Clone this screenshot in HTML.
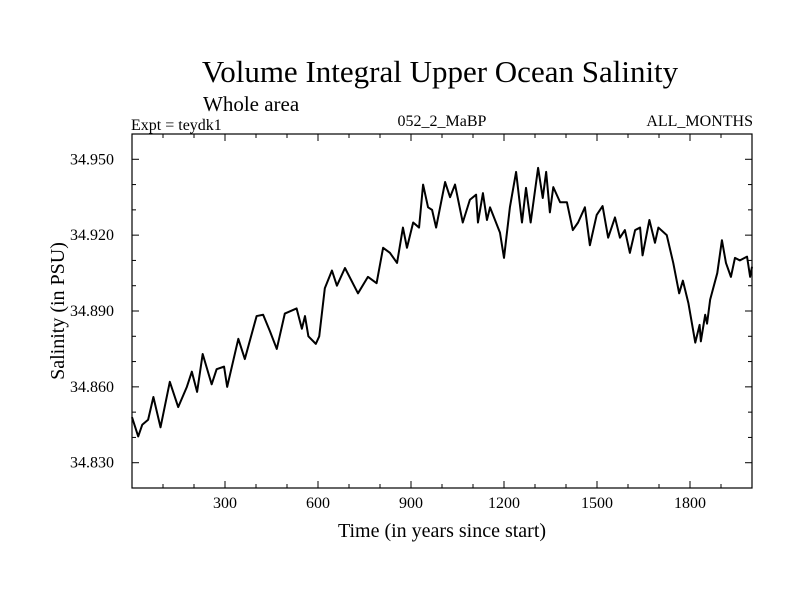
<!DOCTYPE html>
<html><head><meta charset="utf-8"><style>
body{margin:0;background:#fff;}
svg{display:block;font-family:"Liberation Serif",serif;}
</style></head><body>
<svg id="c" width="800" height="600">
<text x="440" y="82" font-size="31" text-anchor="middle">Volume Integral Upper Ocean Salinity</text>
<text x="203" y="111" font-size="21">Whole area</text>
<text x="131" y="130" font-size="16">Expt = teydk1</text>
<text x="442" y="126" font-size="16" text-anchor="middle">052_2_MaBP</text>
<text x="753" y="126" font-size="16" text-anchor="end">ALL_MONTHS</text>
<text x="442" y="537" font-size="20" text-anchor="middle">Time (in years since start)</text>
<text transform="translate(64,311) rotate(-90)" font-size="20" text-anchor="middle">Salinity (in PSU)</text>
<g id="ax"></g>
</svg>
<script>
const years=[0,20,33,52,69,92,122,149,177,193,210,228,257,273,297,307,343,364,402,423,445,467,493,531,548,558,569,593,604,622,645,661,687,729,761,789,810,832,855,874,887,907,926,939,955,968,981,1010,1026,1042,1067,1090,1110,1116,1132,1145,1155,1187,1200,1219,1239,1258,1271,1286,1310,1325,1336,1348,1359,1381,1403,1422,1439,1461,1477,1499,1518,1536,1558,1574,1590,1606,1623,1639,1647,1669,1687,1698,1725,1746,1765,1777,1795,1817,1831,1835,1849,1855,1865,1888,1903,1916,1932,1945,1961,1984,1994,2000];
const salinity=[34.848,34.8404,34.845,34.847,34.856,34.844,34.862,34.852,34.860,34.866,34.858,34.873,34.861,34.867,34.868,34.860,34.879,34.871,34.888,34.8885,34.882,34.875,34.889,34.891,34.883,34.888,34.880,34.877,34.880,34.899,34.906,34.900,34.907,34.897,34.9035,34.901,34.915,34.913,34.909,34.923,34.915,34.925,34.923,34.940,34.931,34.930,34.923,34.941,34.935,34.940,34.925,34.934,34.936,34.925,34.9366,34.926,34.931,34.921,34.911,34.931,34.945,34.925,34.9387,34.925,34.9466,34.9347,34.945,34.929,34.939,34.933,34.933,34.922,34.925,34.931,34.916,34.928,34.9315,34.919,34.927,34.919,34.922,34.913,34.922,34.923,34.912,34.926,34.917,34.923,34.920,34.909,34.897,34.902,34.893,34.8775,34.8845,34.878,34.8885,34.885,34.8945,34.905,34.918,34.909,34.9035,34.911,34.910,34.9115,34.9035,34.9075];
const xTicks=[300,600,900,1200,1500,1800];
const yTicks=[34.830,34.860,34.890,34.920,34.950];
const yTickLabels=["34.830","34.860","34.890","34.920","34.950"];
const L=132,R=752,T=134,B=488,X0=0,X1=2000,Y0=34.820,Y1=34.960;
const sx=v=>L+(v-X0)/(X1-X0)*(R-L);
const sy=v=>B-(v-Y0)/(Y1-Y0)*(B-T);
const NS="http://www.w3.org/2000/svg";
const g=document.getElementById('ax');
function mk(t,a){const e=document.createElementNS(NS,t);for(const k in a)e.setAttribute(k,a[k]);g.appendChild(e);return e;}
const box=mk('rect',{x:L,y:T,width:R-L,height:B-T,fill:'none',stroke:'#000','stroke-width':1.2});


for(let v=100;v<X1;v+=100){const maj=v%300===0;const len=maj?7:4;
 const t1=mk('line',{x1:sx(v),x2:sx(v),y1:B,y2:B-len,stroke:'#000'});
 
 
 const t2=mk('line',{x1:sx(v),x2:sx(v),y1:T,y2:T+len,stroke:'#000'});
 
 }
xTicks.forEach(v=>{const t=mk('text',{x:sx(v),y:B+20,'font-size':16,'text-anchor':'middle'});t.textContent=v;
 
 });
for(let i=-1;i<=13;i++){const v=34.830+i*0.01;if(v<=Y0+1e-9||v>=Y1-1e-9)continue;const maj=i%3===0;const len=maj?7:4;
 const t1=mk('line',{x1:L,x2:L+len,y1:sy(v),y2:sy(v),stroke:'#000'});
 
 
 const t2=mk('line',{x1:R,x2:R-len,y1:sy(v),y2:sy(v),stroke:'#000'});
 
 }
yTicks.forEach((v,i)=>{const t=mk('text',{x:L-18,y:sy(v)+5,'font-size':16,'text-anchor':'end'});t.textContent=yTickLabels[i];
 
 });
const line=mk('polyline',{points:years.map((y,i)=>sx(y)+','+sy(salinity[i])).join(' '),fill:'none',stroke:'#000','stroke-width':2,'stroke-linejoin':'round'});


</script>
</body></html>
